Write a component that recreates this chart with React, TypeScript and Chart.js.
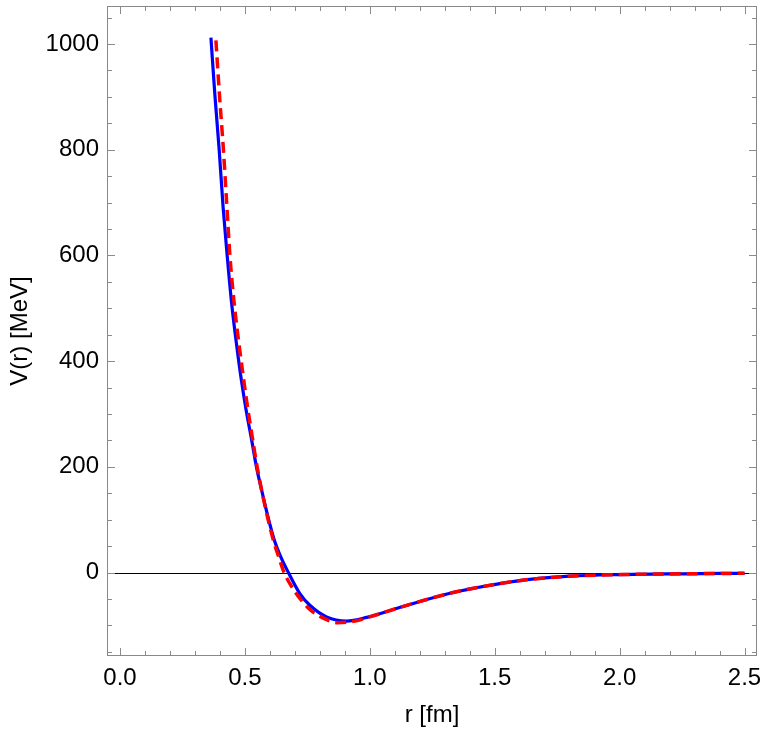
import React, { useEffect, useRef } from 'react';
import { Chart, registerables } from 'chart.js';

Chart.register(...registerables);

// Blue solid curve: r [fm] and V(r) [MeV]
const blueR = [0.364, 0.38, 0.397, 0.413, 0.429, 0.447, 0.467, 0.485, 0.504, 0.527, 0.547, 0.567, 0.59, 0.618, 0.645, 0.674, 0.72, 0.76, 0.827, 0.907, 0.988, 1.094, 1.228, 1.361, 1.521, 1.64, 1.8, 2.0, 2.25, 2.5];
const blueV = [1012, 903, 800, 690, 600, 509, 430, 367, 310, 251, 198, 156, 110, 61, 28, 0, -40, -62, -84, -92, -85, -70, -51, -35, -21, -13, -7, -4, -2.5, -1.5];

// Red dashed curve
const redR = [0.384, 0.398, 0.414, 0.427, 0.44, 0.457, 0.477, 0.51, 0.53, 0.547, 0.567, 0.59, 0.614, 0.635, 0.657, 0.7, 0.72, 0.76, 0.827, 0.87, 0.94, 1.0, 1.094, 1.228, 1.361, 1.521, 1.64, 1.8, 2.0, 2.25, 2.5];
const redV = [1007, 905, 800, 700, 600, 510, 430, 315, 255, 205, 156, 106, 61, 30, 0, -36, -49, -70, -89, -95, -92, -84, -70, -51, -35, -21, -13, -7, -4, -2.5, -1.5];

const xMajorTicks = [0, 0.5, 1.0, 1.5, 2.0, 2.5];
const xMinorTicks = [0.1, 0.2, 0.3, 0.4, 0.6, 0.7, 0.8, 0.9, 1.1, 1.2, 1.3, 1.4, 1.6, 1.7, 1.8, 1.9, 2.1, 2.2, 2.3, 2.4];
const yMajorTicks = [0, 200, 400, 600, 800, 1000];
const yMinorTicks = [-150, -100, -50, 50, 100, 150, 250, 300, 350, 450, 500, 550, 650, 700, 750, 850, 900, 950, 1050];

const xTitle = 'r [fm]';
const yTitle = 'V(r) [MeV]';

const FONT = '"Liberation Sans", Arial, sans-serif';

const framePlugin = {
  id: 'mmaFrame',
  beforeDatasetsDraw(chart: any) {
    const { ctx, chartArea, scales } = chart;
    const py = Math.round(scales.y.getPixelForValue(0)) + 0.5;
    ctx.save();
    ctx.strokeStyle = '#000000';
    ctx.lineWidth = 1;
    ctx.beginPath();
    ctx.moveTo(chartArea.left, py);
    ctx.lineTo(chartArea.right, py);
    ctx.stroke();
    ctx.restore();
  },
  afterDatasetsDraw(chart: any) {
    const { ctx, chartArea, scales } = chart;
    const { left, right, top, bottom } = chartArea;
    ctx.save();
    ctx.strokeStyle = '#8a8a8a';
    ctx.lineWidth = 1;
    const seg = (x1: number, y1: number, x2: number, y2: number) => {
      ctx.beginPath();
      ctx.moveTo(x1, y1);
      ctx.lineTo(x2, y2);
      ctx.stroke();
    };
    const xt = (vals: number[], len: number) => {
      vals.forEach((v) => {
        const px = Math.round(scales.x.getPixelForValue(v)) + 0.5;
        seg(px, bottom, px, bottom - len);
        seg(px, top, px, top + len);
      });
    };
    const yt = (vals: number[], len: number) => {
      vals.forEach((v) => {
        const py = Math.round(scales.y.getPixelForValue(v)) + 0.5;
        seg(left, py, left + len, py);
        seg(right, py, right - len, py);
      });
    };
    xt(xMajorTicks, 8);
    xt(xMinorTicks, 5);
    yt(yMajorTicks, 8);
    yt(yMinorTicks, 5);
    ctx.strokeStyle = '#888888';
    ctx.strokeRect(left + 0.5, top + 0.5, right - left - 1, bottom - top - 1);
    ctx.restore();
  },
};

export default function App() {
  const ref = useRef<HTMLCanvasElement | null>(null);

  useEffect(() => {
    if (!ref.current) return;
    const red = redR.map((r, i) => ({ x: r, y: redV[i] }));
    const blue = blueR.map((r, i) => ({ x: r, y: blueV[i] }));
    const chart = new Chart(ref.current, {
      type: 'line',
      data: {
        datasets: [
          {
            label: 'red',
            data: red,
            borderColor: '#ff0000',
            borderWidth: 3.5,
            borderDash: [11, 6],
            pointRadius: 0,
            fill: false,
            cubicInterpolationMode: 'monotone',
          },
          {
            label: 'blue',
            data: blue,
            borderColor: '#0000ff',
            borderWidth: 3.2,
            pointRadius: 0,
            fill: false,
            cubicInterpolationMode: 'monotone',
          },
        ],
      },
      options: {
        responsive: false,
        animation: false,
        devicePixelRatio: 1,
        layout: { padding: { top: 6, right: 6, left: 0, bottom: 0 } },
        plugins: { legend: { display: false }, tooltip: { enabled: false } },
        scales: {
          x: {
            type: 'linear',
            min: -0.052,
            max: 2.55,
            grid: { display: false, drawTicks: false },
            border: { display: false },
            afterBuildTicks: (s: any) => {
              s.ticks = xMajorTicks.map((v) => ({ value: v }));
            },
            afterFit: (s: any) => {
              s.height = 84;
              s.paddingLeft = 0;
              s.paddingRight = 0;
            },
            ticks: {
              autoSkip: false,
              maxRotation: 0,
              padding: 8,
              color: '#000',
              font: { family: FONT, size: 24 },
              callback: (v: any) => Number(v).toFixed(1),
            },
            title: {
              display: true,
              text: xTitle,
              color: '#000',
              font: { family: FONT, size: 24 },
              padding: { top: 0, bottom: 10 },
            },
          },
          y: {
            type: 'linear',
            min: -158,
            max: 1072,
            grid: { display: false, drawTicks: false },
            border: { display: false },
            afterBuildTicks: (s: any) => {
              s.ticks = yMajorTicks.map((v) => ({ value: v }));
            },
            afterFit: (s: any) => {
              s.width = 107;
              s.paddingTop = 0;
              s.paddingBottom = 0;
            },
            ticks: {
              autoSkip: false,
              padding: 8,
              color: '#000',
              font: { family: FONT, size: 24 },
              callback: (v: any) => String(v),
            },
            title: {
              display: true,
              text: yTitle,
              color: '#000',
              font: { family: FONT, size: 24 },
              padding: { top: 6, bottom: 0 },
            },
          },
        },
      },
      plugins: [framePlugin],
    } as any);
    return () => chart.destroy();
  }, []);

  return (
    <div style={{ position: 'fixed', left: 0, top: 0, width: 763, height: 740, background: '#fff' }}>
      <canvas ref={ref} width={763} height={740} style={{ display: 'block' }} />
    </div>
  );
}
